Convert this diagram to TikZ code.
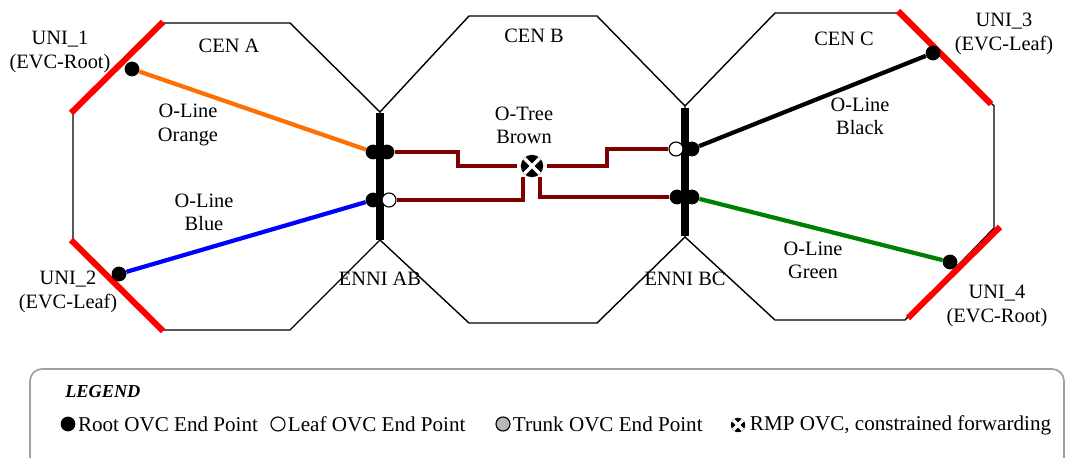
\documentclass[tikz,border=0pt]{standalone}
\usepackage{fontspec}
\setmainfont{Liberation Serif}
\usetikzlibrary{positioning}

\definecolor{olorange}{RGB}{255,112,0}
\definecolor{olgreen}{RGB}{0,128,0}
\definecolor{otbrown}{RGB}{128,0,0}
\definecolor{legframe}{RGB}{160,160,160}

\begin{document}
\begin{tikzpicture}[x=0.025cm,y=-0.025cm,
  cen/.style={draw=black,line width=1pt},
  uni/.style={draw=red,line width=4.3pt},
  ennibar/.style={draw=black,line width=5.7pt},
  lbl/.style={align=center,font=\fontsize{14.5pt}{16.5pt}\selectfont,inner sep=0pt},
  legtxt/.style={font=\fontsize{15pt}{17pt}\selectfont,inner sep=0pt},
  rootpt/.style={circle,fill=black,minimum size=0.37cm,inner sep=0pt},
  leafpt/.style={circle,fill=white,draw=black,line width=0.8pt,minimum size=0.35cm,inner sep=0pt},
  trunkpt/.style={circle,fill=black!28,draw=black,line width=0.8pt,minimum size=0.35cm,inner sep=0pt},
  rmpsym/.style={circle,fill=black,minimum size=0.56cm,inner sep=0pt,
    path picture={\draw[white,line width=2.3pt]
      (path picture bounding box.north west) -- (path picture bounding box.south east)
      (path picture bounding box.north east) -- (path picture bounding box.south west);}},
  oline/.style={line width=3pt},
  otree/.style={draw=otbrown,line width=3pt}]

\useasboundingbox (0,0) rectangle (1065,458);

% the three CENs
\draw [cen] (163,23) -- (290,23) -- (380,112) -- (380,240) -- (290,330) -- (163,330) -- (73,240) -- (73,112) -- cycle;
\draw [cen] (380,112) -- (469,16) -- (597,16) -- (685,106) -- (685,237) -- (597,323) -- (469,323) -- (380,240);
\draw [cen] (685,106) -- (775,13) -- (900,13) -- (994,106) -- (994,228) -- (905,320) -- (775,320) -- (685,237);

% UNIs and ENNIs
\draw [uni] (71,113) -- (163,22);
\draw [uni] (71,240) -- (163,331);
\draw [uni] (898,11) -- (991,104);
\draw [uni] (1000,227) -- (908,318);
\draw [ennibar] (380,113) -- (380,240);
\draw [ennibar] (685,108) -- (685,236);

% end points
\node (uni1) at (132,69) [rootpt] {};
\node (uni2) at (119,274) [rootpt] {};
\node (uni3) at (933,53) [rootpt] {};
\node (uni4) at (950,262) [rootpt] {};
\node (abOr) at (373,152) [rootpt] {};
\node (abTr) at (387,152) [rootpt] {};
\node (abBl) at (373,200) [rootpt] {};
\node (abTl) at (389,200) [leafpt] {};
\node (bcTr) at (676,149) [leafpt] {};
\node (bcBk) at (692,149) [rootpt] {};
\node (bcTl) at (677,197) [rootpt] {};
\node (bcGr) at (692,197) [rootpt] {};
\node (rmp) at (532,166) [rmpsym] {};

% OVCs
\draw [oline,draw=olorange] (uni1) -- (abOr);
\draw [oline,draw=blue] (uni2) -- (abBl);
\draw [oline,draw=black] (uni3) -- (bcBk);
\draw [oline,draw=olgreen] (uni4) -- (bcGr);
\draw [otree] (abTr) -- ++(71,0) |- ([xshift=-2.8pt]rmp.west);
\draw [otree] (abTl) -| ([xshift=-6.4pt]rmp.south);
\draw [otree] (bcTr) -- ++(-69,0) |- ([xshift=2.8pt]rmp.east);
\draw [otree] (bcTl) -| ([xshift=5.7pt]rmp.south);

% labels
\node (uni1lbl) at (60,52) [lbl] {UNI\_1\\(EVC-Root)};
\node (uni2lbl) at (68,292) [lbl] {UNI\_2\\(EVC-Leaf)};
\node (uni3lbl) at (1004,34) [lbl] {UNI\_3\\(EVC-Leaf)};
\node (uni4lbl) at (997,306) [lbl] {UNI\_4\\(EVC-Root)};
\node (cenAlbl) at (229,46) [lbl] {CEN A};
\node (cenBlbl) at (534,36) [lbl] {CEN B};
\node (cenClbl) at (844,39) [lbl] {CEN C};
\node (orlbl) at (188,125) [lbl] {O-Line\\Orange};
\node (bllbl) at (204,212) [lbl] {O-Line\\Blue};
\node (brlbl) at (524,125) [lbl] {O-Tree\\Brown};
\node (bklbl) at (860,116) [lbl] {O-Line\\Black};
\node (grlbl) at (813,260) [lbl] {O-Line\\Green};
\node (ablbl) at (380,279) [lbl] {ENNI AB};
\node (bclbl) at (685,279) [lbl] {ENNI BC};

% legend
\draw [legframe,line width=1.2pt,rounded corners=0.3cm] (30,369) rectangle (1064,475);
\node (lgd) at (65,392) [anchor=west,inner sep=0pt,font=\bfseries\itshape\fontsize{13pt}{15pt}\selectfont] {LEGEND};
\node (lgroot) at (68,424) [rootpt] {};
\node (lgroottxt) [legtxt,right=1.5pt of lgroot] {Root OVC End Point};
\node (lgleaf) at (278,424) [leafpt] {};
\node (lgleaftxt) [legtxt,right=1.5pt of lgleaf] {Leaf OVC End Point};
\node (lgtrunk) at (503,424) [trunkpt] {};
\node (lgtrunktxt) [legtxt,right=1.5pt of lgtrunk] {Trunk OVC End Point};
\node (lgrmp) at (738,425) [rmpsym,minimum size=0.36cm] {};
\node (lgrmptxt) [legtxt,right=3pt of lgrmp] {RMP OVC, constrained forwarding};

\end{tikzpicture}
\end{document}
